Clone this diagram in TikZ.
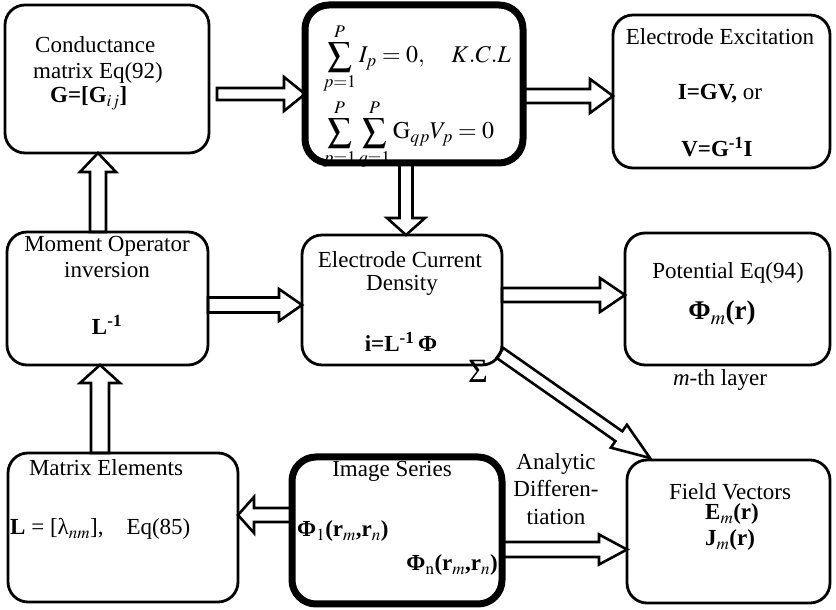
\documentclass[tikz,border=0pt]{standalone}
\usepackage{mathptmx}
\usepackage[no-math]{fontspec}
\setmainfont{Liberation Serif}
\usetikzlibrary{calc}

\tikzset{
  box/.style={draw, line width=2.8pt, rounded corners=20pt, inner sep=0pt, outer sep=0pt},
  thickbox/.style={draw, line width=7pt, rounded corners=24pt, inner sep=0pt, outer sep=0pt},
  lbl/.style={inner sep=0pt, font=\fontsize{23}{27}\selectfont},
  arrowline/.style={draw, line width=2.6pt, line join=miter},
  % hollow block arrow: shaft half width, head half width, head length
  blockarrow/.style n args={3}{to path={
    let \p1=(\tikztostart), \p2=(\tikztotarget),
        \n1={atan2(\y2-\y1,\x2-\x1)} in
    ($(\p1)+(\n1+90:#1)$) -- ($(\p2)+(\n1:-#3)+(\n1+90:#1)$)
    -- ($(\p2)+(\n1:-#3)+(\n1+90:#2)$) -- (\p2)
    -- ($(\p2)+(\n1:-#3)+(\n1-90:#2)$) -- ($(\p2)+(\n1:-#3)+(\n1-90:#1)$)
    -- ($(\p1)+(\n1-90:#1)$) -- cycle}}
}

\begin{document}
\begin{tikzpicture}[x=1pt,y=1pt]
\useasboundingbox (0,0) rectangle (836,610);

% blocks
\node[box, minimum width=204pt, minimum height=148pt] (cond) at (107,531) {};
\node[thickbox, minimum width=218pt, minimum height=158pt] (kcl) at (414,526) {};
\node[box, minimum width=217pt, minimum height=153pt] (exc) at (721.5,518.5) {};
\node[box, minimum width=201pt, minimum height=133pt] (mom) at (107.5,311.5) {};
\node[box, minimum width=200pt, minimum height=130pt] (cur) at (402,310) {};
\node[box, minimum width=205pt, minimum height=132pt] (pot) at (727.5,311) {};
\node[box, minimum width=230pt, minimum height=149pt] (mat) at (123,82.5) {};
\node[thickbox, minimum width=210pt, minimum height=147pt] (img) at (397,79.5) {};
\node[box, minimum width=203pt, minimum height=143pt] (fld) at (728.5,78.5) {};

% block texts
\node[lbl, anchor=base west] (condA) at (35,557) {Conductance};
\node[lbl, anchor=base west] (condB) at (33,531) {matrix Eq(92)};
\node[lbl, anchor=base west] (condC) at (50,507) {\textbf{G=[G}$_{ij}$\textbf{]}};

\node[lbl, anchor=base west, font=\fontsize{24}{27}\selectfont] (kclA) at (323,547) {$\displaystyle\sum_{p=1}^{P} I_p = 0,\quad K.C.L$};
\node[lbl, anchor=base west, font=\fontsize{24}{27}\selectfont] (kclB) at (323,471) {$\displaystyle\sum_{p=1}^{P}\sum_{q=1}^{P}\mathrm{G}_{qp}V_p = 0$};

\node[lbl, anchor=base] (excA) at (720,565) {Electrode Excitation};
\node[lbl, anchor=base] (excB) at (720,510) {\textbf{I=GV,} or};
\node[lbl, anchor=base] (excC) at (717,453) {\textbf{V=G\textsuperscript{-1}I}};

\node[lbl, anchor=base] (momA) at (107,358) {Moment Operator};
\node[lbl, anchor=base] (momB) at (107,332) {inversion};
\node[lbl, anchor=base] (momC) at (107,275) {\textbf{L\textsuperscript{-1}}};

\node[lbl, anchor=base] (curA) at (400,342) {Electrode Current};
\node[lbl, anchor=base] (curB) at (402,319) {Density};
\node[lbl, anchor=base] (curC) at (401,258) {\textbf{i=L\textsuperscript{-1}\,Φ}};

\node[lbl, anchor=base] (potA) at (728,331) {Potential Eq(94)};
\node[lbl, anchor=base, font=\fontsize{27}{30}\selectfont] (potB) at (722,290) {\textbf{Φ}$_m$\textbf{(r)}};

\node[lbl, anchor=base] (layer) at (720,224) {\textit{m}-th layer};

\node[lbl, anchor=base] (fldA) at (730,110) {Field Vectors};
\node[lbl, anchor=base] (fldB) at (732,90) {\textbf{E}$_m$\textbf{(r)}};
\node[lbl, anchor=base] (fldC) at (730,64) {\textbf{J}$_m$\textbf{(r)}};

\node[lbl, anchor=base] (matA) at (106,134) {Matrix Elements};
\node[lbl, anchor=base west] (matB) at (10,75) {\textbf{L} = [λ$_{nm}$],\quad Eq(85)};

\node[lbl, anchor=base] (imgA) at (392,133) {Image Series};
\node[lbl, anchor=base west] (imgB) at (297,73) {\textbf{Φ}$_1$\textbf{(r}$_m$\textbf{,r}$_n$\textbf{)}};
\node[lbl, anchor=base east] (imgC) at (498,39) {\textbf{Φ}$_{\mathrm{n}}$\textbf{(r}$_m$\textbf{,r}$_n$\textbf{)}};

\node[lbl, font=\fontsize{34}{36}\selectfont] (sig) at (478,239) {Σ};

\node[lbl, anchor=base] (difA) at (556,140) {Analytic};
\node[lbl, anchor=base] (difB) at (556,113) {Differen-};
\node[lbl, anchor=base] (difC) at (556,85) {tiation};

% hollow arrows
\draw[arrowline, blockarrow={6}{17}{21}] ([shift={(8,-15)}]cond.east) to ([yshift=-10]kcl.west);
\draw[arrowline, blockarrow={7}{17}{23}] ([yshift=-12]kcl.east) to ([yshift=-4.5]exc.west);
\draw[arrowline, blockarrow={6.5}{19}{17}] ([xshift=-8]kcl.south) to ([xshift=4]cur.north);
\draw[arrowline, blockarrow={8}{18}{19}] ([xshift=-9.5]mom.north) to ([xshift=-9]cond.south);
\draw[arrowline, blockarrow={9}{20}{18}] ([xshift=-23]mat.north) to ([xshift=-7.5]mom.south);
\draw[arrowline, blockarrow={7.5}{16}{23}] ([yshift=-6.5]mom.east) to ([yshift=-5]cur.west);
\draw[arrowline, blockarrow={7}{17}{25}] ([yshift=5]cur.east) to ([yshift=4]pot.west);
\draw[arrowline, blockarrow={6}{14}{38}] ([shift={(-2,12)}]cur.south east) to ([shift={(23,2)}]fld.north west);
\draw[arrowline, blockarrow={7}{18}{16}] ([yshift=15.5]img.west) to ([yshift=12.5]mat.east);
\draw[arrowline, blockarrow={7.5}{15}{28}] ([yshift=-19]img.east) to ([yshift=-18]fld.west);
\end{tikzpicture}
\end{document}
